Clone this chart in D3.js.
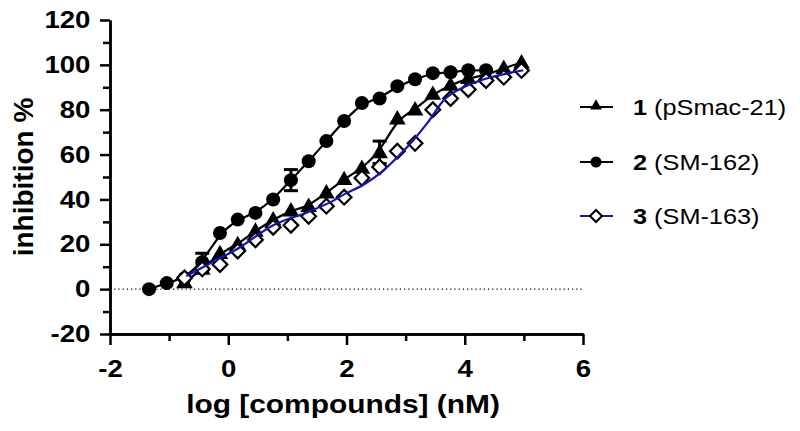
<!DOCTYPE html>
<html>
<head>
<meta charset="utf-8">
<script src="https://cdn.jsdelivr.net/npm/d3@7"></script>
<style>
  body { margin: 0; background: #fff; }
  text { font-family: "Liberation Sans", Arial, sans-serif; }
</style>
</head>
<body>
<div id="chart"></div>
<script>
// log concentrations (half-log dilutions)
var logX2 = [-1.34, -1.04, -0.74, -0.44, -0.14, 0.16, 0.46, 0.76, 1.06, 1.36,
             1.66, 1.96, 2.26, 2.56, 2.86, 3.16, 3.46, 3.76, 4.06, 4.36];
var logX13 = [-0.74, -0.44, -0.14, 0.16, 0.46, 0.76, 1.06, 1.36, 1.66, 1.96,
              2.26, 2.56, 2.86, 3.16, 3.46, 3.76, 4.06, 4.36, 4.66, 4.96];

// inhibition % per compound
var inh1 = [3, 9, 16, 20, 26, 31, 35, 37, 43, 49, 54, 61, 76, 80, 87, 91, 94, 95.5, 98.5, 101];
var inh2 = [0, 2.7, 4.9, 12, 25, 31, 34, 40, 48.6, 57, 66, 75, 83, 85, 90.5, 93.6, 96.3, 96.7, 97.6, 97.6];
var inh3 = [5, 9, 11, 17, 22, 27.6, 28.5, 32.5, 37, 41, 49.5, 54.5, 61.5, 65, 80, 85, 89, 93, 94.5, 97.5];

// fitted curve of compound 3
var fit3X = [-0.71, -0.3, 0.2, 0.76, 1.34, 1.73, 2.0, 2.28, 2.57, 2.86, 3.13, 3.38, 3.7, 4.26, 4.99];
var fit3Y = [5.8, 11.6, 18.7, 28.5, 34.3, 38.8, 42.8, 46.4, 51.7, 58.8, 66.4, 74.5, 85.6, 93, 97.6];

// error bars (SD) where visible: [series, index, sd]
var errBars = [[2, 3, 4], [2, 8, 4.7], [1, 11, 5]];

var xTicks = [-2, 0, 2, 4, 6];
var xMinor = [-1, 1, 3, 5];
var yTicks = [-20, 0, 20, 40, 60, 80, 100, 120];
var yMinor = [-10, 10, 30, 50, 70, 90, 110];

var legendNames = [["1", " (pSmac-21)"], ["2", " (SM-162)"], ["3", " (SM-163)"]];

var W = 800, H = 431;
var blue = "#1414b4";
var stretch = 1.15; // text in the picture is a bit wide

var svg = d3.select("#chart").append("svg")
    .attr("width", W)
    .attr("height", H);

var x = d3.scaleLinear().domain([-2, 6]).range([110, 583]);
var y = d3.scaleLinear().domain([-20, 120]).range([334, 20]);

function zip(xs, ys) {
  return xs.map(function(v, i) { return {x: v, y: ys[i]}; });
}
var s1 = zip(logX13, inh1), s2 = zip(logX2, inh2), s3 = zip(logX13, inh3);
var fit3 = zip(fit3X, fit3Y);
var series = {1: s1, 2: s2, 3: s3};

// dotted zero line
svg.append("line")
  .attr("x1", x(-2)).attr("x2", x(6))
  .attr("y1", y(0)).attr("y2", y(0))
  .attr("stroke", "#000").attr("stroke-width", 1.2)
  .attr("stroke-dasharray", "1.2,3");

// axes
var fmt = function(d) { return String(d); };
svg.append("g").attr("transform", "translate(" + x(-2) + ",0)")
  .call(d3.axisLeft(y).tickValues(yTicks).tickSize(10).tickPadding(7).tickFormat(fmt).tickSizeOuter(0));
svg.append("g").attr("transform", "translate(" + x(-2) + ",0)")
  .call(d3.axisLeft(y).tickValues(yMinor).tickSize(7).tickFormat("").tickSizeOuter(0));
svg.append("g").attr("transform", "translate(0," + y(-20) + ")")
  .call(d3.axisBottom(x).tickValues(xTicks).tickSize(11).tickPadding(15).tickFormat(fmt).tickSizeOuter(0));
svg.append("g").attr("transform", "translate(0," + y(-20) + ")")
  .call(d3.axisBottom(x).tickValues(xMinor).tickSize(7).tickFormat("").tickSizeOuter(0));

svg.selectAll(".domain").attr("stroke", "#000").attr("stroke-width", 2.5);
svg.selectAll(".tick line").attr("stroke", "#000").attr("stroke-width", 2.5);
svg.selectAll(".tick text")
  .attr("fill", "#000")
  .attr("transform", "scale(" + stretch + ",1)")
  .style("font-size", "24px")
  .style("font-weight", "bold")
  .style("font-family", "'Liberation Sans', Arial, sans-serif");

// axis titles
svg.append("text")
  .attr("transform", "translate(343,413) scale(" + stretch + ",1)")
  .attr("text-anchor", "middle")
  .style("font-size", "26px").style("font-weight", "bold")
  .text("log [compounds] (nM)");
svg.append("text")
  .attr("transform", "translate(33,177) rotate(-90)")
  .attr("text-anchor", "middle")
  .style("font-size", "28px").style("font-weight", "bold")
  .text("inhibition %");

// fitted curves
var line = d3.line()
  .x(function(d) { return x(d.x); })
  .y(function(d) { return y(d.y); })
  .curve(d3.curveBasis);

svg.append("path").datum(s2).attr("d", line)
  .attr("fill", "none").attr("stroke", "#000").attr("stroke-width", 2.2);
svg.append("path").datum(s1).attr("d", line)
  .attr("fill", "none").attr("stroke", "#000").attr("stroke-width", 2.2);

// error bars
errBars.forEach(function(e) {
  var d = series[e[0]][e[1]];
  var g = svg.append("g").attr("stroke", "#000").attr("stroke-width", 3);
  g.append("line").attr("x1", x(d.x)).attr("x2", x(d.x))
    .attr("y1", y(d.y + e[2])).attr("y2", y(d.y - e[2]));
  [d.y + e[2], d.y - e[2]].forEach(function(v) {
    g.append("line").attr("x1", x(d.x) - 7).attr("x2", x(d.x) + 7)
      .attr("y1", y(v)).attr("y2", y(v));
  });
});

var triSym = d3.symbol().type(d3.symbolTriangle).size(120);
var diaSym = d3.symbol().type(d3.symbolSquare).size(108);

// markers
svg.selectAll(".circ").data(s2).enter().append("circle")
  .attr("cx", function(d) { return x(d.x); })
  .attr("cy", function(d) { return y(d.y); })
  .attr("r", 7).attr("fill", "#000");

svg.selectAll(".tri").data(s1).enter().append("path")
  .attr("d", triSym)
  .attr("transform", function(d) { return "translate(" + x(d.x) + "," + (y(d.y) + 1) + ")"; })
  .attr("fill", "#000");

svg.selectAll(".dia").data(s3).enter().append("path")
  .attr("d", diaSym)
  .attr("transform", function(d) { return "translate(" + x(d.x) + "," + y(d.y) + ") rotate(45)"; })
  .attr("fill", "#fff").attr("stroke", "#000").attr("stroke-width", 2.2);

svg.append("path").datum(fit3)
  .attr("d", line.curve(d3.curveCatmullRom))
  .attr("fill", "none").attr("stroke", blue).attr("stroke-width", 2.2);

// legend
var legY = [107, 162, 216];
var leg = svg.append("g");
legY.forEach(function(ly, i) {
  leg.append("line")
    .attr("x1", 580).attr("x2", 613).attr("y1", ly).attr("y2", ly)
    .attr("stroke", i == 2 ? blue : "#000").attr("stroke-width", 2.2);
  if (i == 0) {
    leg.append("path").attr("d", d3.symbol().type(d3.symbolTriangle).size(60))
      .attr("transform", "translate(596," + (ly - 1) + ")").attr("fill", "#000");
  } else if (i == 1) {
    leg.append("circle").attr("cx", 596).attr("cy", ly).attr("r", 5.5).attr("fill", "#000");
  } else {
    leg.append("path").attr("d", d3.symbol().type(d3.symbolSquare).size(72))
      .attr("transform", "translate(596," + ly + ") rotate(45)")
      .attr("fill", "#fff").attr("stroke", "#000").attr("stroke-width", 2);
  }
  var t = leg.append("text")
    .attr("transform", "translate(633," + (ly + 8) + ") scale(" + stretch + ",1)")
    .style("font-size", "22px");
  t.append("tspan").style("font-weight", "bold").text(legendNames[i][0]);
  t.append("tspan").text(legendNames[i][1]);
});
</script>
</body>
</html>
